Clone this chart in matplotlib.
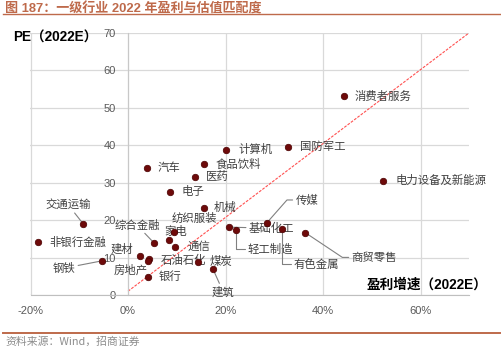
import matplotlib
matplotlib.use("Agg")
import matplotlib.pyplot as plt
from matplotlib.lines import Line2D

plt.rcParams['font.family'] = ['Noto Sans CJK SC', 'DejaVu Sans']

# ---- data ----
industries = ["消费者服务", "国防军工", "计算机", "食品饮料", "汽车", "医药", "电子", "机械",
              "电力设备及新能源", "交通运输", "非银行金融", "钢铁", "综合金融", "纺织服装", "家电",
              "通信", "建材", "石油石化", "房地产", "银行", "煤炭", "建筑", "基础化工", "轻工制造",
              "传媒", "有色金属", "商贸零售"]
growth = [44.2, 32.9, 20.2, 15.5, 3.8, 13.7, 8.7, 15.5,
          52.2, -9.2, -18.5, -5.4, 5.4, 9.5, 8.5,
          9.7, 2.5, 4.4, 4.1, 4.1, 14.4, 17.4, 20.8, 22.1,
          28.5, 31.5, 36.4]
pe = [53.1, 39.5, 38.8, 35.0, 33.9, 31.6, 27.6, 23.3,
      30.5, 19.0, 14.1, 9.1, 13.8, 16.9, 14.7,
      12.9, 10.5, 9.7, 9.1, 4.9, 8.9, 7.0, 18.1, 17.3,
      19.3, 17.6, 16.6]
diag_x = [0, 70]
diag_y = [1, 70]
x_ticks = [-20, 0, 20, 40, 60]
x_tick_labels = ["-20%", "0%", "20%", "40%", "60%"]
y_ticks = [0, 10, 20, 30, 40, 50, 60, 70]

# label layout: (dx px, dy px, ha, leader)  leader: None, 'line', ('angle', angleA, angleB)
label_layout = {
    "消费者服务": (11, 0, 'left', None),
    "国防军工": (11.7, 0, 'left', None),
    "计算机": (12, 0, 'left', None),
    "食品饮料": (12, 0, 'left', None),
    "汽车": (11.3, 0, 'left', None),
    "医药": (11, 0, 'left', None),
    "电子": (11, 0, 'left', None),
    "机械": (10.5, 0, 'left', None),
    "电力设备及新能源": (13, 0, 'left', None),
    "交通运输": (-15, 19, 'center', 'line'),
    "非银行金融": (12, 0, 'left', None),
    "钢铁": (-37.7, -7.3, 'center', 'line'),
    "综合金融": (-17.5, 18.3, 'center', 'line'),
    "纺织服装": (20, 13.7, 'center', None),
    "家电": (6.7, 8.3, 'center', None),
    "通信": (12.3, 0, 'left', None),
    "建材": (-18.2, 6.4, 'center', None),
    "石油石化": (11.7, -1.3, 'left', None),
    "房地产": (-17.5, -9, 'center', None),
    "银行": (11, 0, 'left', None),
    "煤炭": (11.4, 0, 'left', None),
    "建筑": (10.3, -23, 'center', 'line'),
    "基础化工": (19.3, -1, 'left', 'line'),
    "轻工制造": (11.6, -19.3, 'left', ('angle', 0, 90)),
    "传媒": (28.4, 22.7, 'left', ('angle', 0, 48.6)),
    "有色金属": (11.7, -35, 'left', ('angle', 0, 90)),
    "商贸零售": (46, -24.6, 'left', ('angle', 0, -33.7)),
}

W, H = 502, 351
fig = plt.figure(figsize=(W / 100, H / 100), dpi=100)
ax = fig.add_axes([30.5 / W, 1 - 295 / H, (469.3 - 30.5) / W, (295 - 32.7) / H])

ax.set_xlim(-20, 70)
ax.set_ylim(0, 70)
ax.set_xticks(x_ticks)
ax.set_xticklabels(x_tick_labels)
ax.set_yticks(y_ticks)
ax.grid(True, color='#D9D9D9', lw=0.9)
ax.set_axisbelow(True)
for s in ['top', 'right']:
    ax.spines[s].set_visible(False)
ax.spines['left'].set_position(('data', 0))
ax.spines['left'].set_color('#C8C8C8')
ax.spines['bottom'].set_color('#BFBFBF')
ax.tick_params(axis='both', length=0, colors='#595959', labelsize=8)
ax.tick_params(axis='y', pad=9)
ax.tick_params(axis='x', pad=8)
for t in ax.get_xticklabels() + ax.get_yticklabels():
    t.set_family(['Liberation Sans', 'DejaVu Sans'])

ax.plot(diag_x, diag_y, color='#FF5050', lw=0.8, ls=(0, (2.5, 1.2)), zorder=2)

for name, gx, py in zip(industries, growth, pe):
    dx, dy, ha, leader = label_layout[name]
    arrow = None
    if leader == 'line':
        arrow = dict(arrowstyle='-', color='#808080', lw=0.8, shrinkA=0, shrinkB=2)
    elif isinstance(leader, tuple):
        arrow = dict(arrowstyle='-', color='#808080', lw=0.8, shrinkA=0, shrinkB=2,
                     connectionstyle=f"angle,angleA={leader[1]},angleB={leader[2]},rad=0")
    ax.annotate(name, xy=(gx, py), xytext=(dx, dy), textcoords='offset pixels',
                ha=ha, va='center', fontsize=8.2, color='#404040',
                arrowprops=arrow, zorder=3, annotation_clip=False)

ax.scatter(growth, pe, s=22, color='#6E0A0A', edgecolors='#4A0000', linewidths=0.5, zorder=4)

# axis titles
fig.text(12.7 / W, 1 - 37.3 / H, "PE（2022E）", fontsize=9.8, fontweight='bold',
         family=['Liberation Sans', 'Noto Sans CJK SC'], ha='left', va='center', color='black')
fig.text(487 / W, 1 - 285 / H, "盈利增速（2022E）", fontsize=9.8, fontweight='bold',
         family=['Liberation Sans', 'Noto Sans CJK SC'], ha='right', va='center', color='black')

# title + footer
title_color = '#BE6A4B'
fig.text(5 / W, 1 - 9 / H, "图 187：一级行业 2022 年盈利与估值匹配度", fontsize=9.4, fontweight='bold',
         color=title_color, ha='left', va='center',
         family=['Liberation Sans', 'Noto Sans CJK SC'])
fig.add_artist(Line2D([3 / W, 500 / W], [1 - 14.3 / H, 1 - 14.3 / H], color=title_color, lw=1.0))
fig.add_artist(Line2D([3 / W, 500 / W], [1 - 332.5 / H, 1 - 332.5 / H], color=title_color, lw=1.4))
fig.text(5 / W, 1 - 341.5 / H, "资料来源：Wind，招商证券", fontsize=7.8, color='#8C8C8C',
         ha='left', va='center', family=['Noto Sans CJK SC', 'DejaVu Sans'])

fig.savefig("out.png", dpi=100)
